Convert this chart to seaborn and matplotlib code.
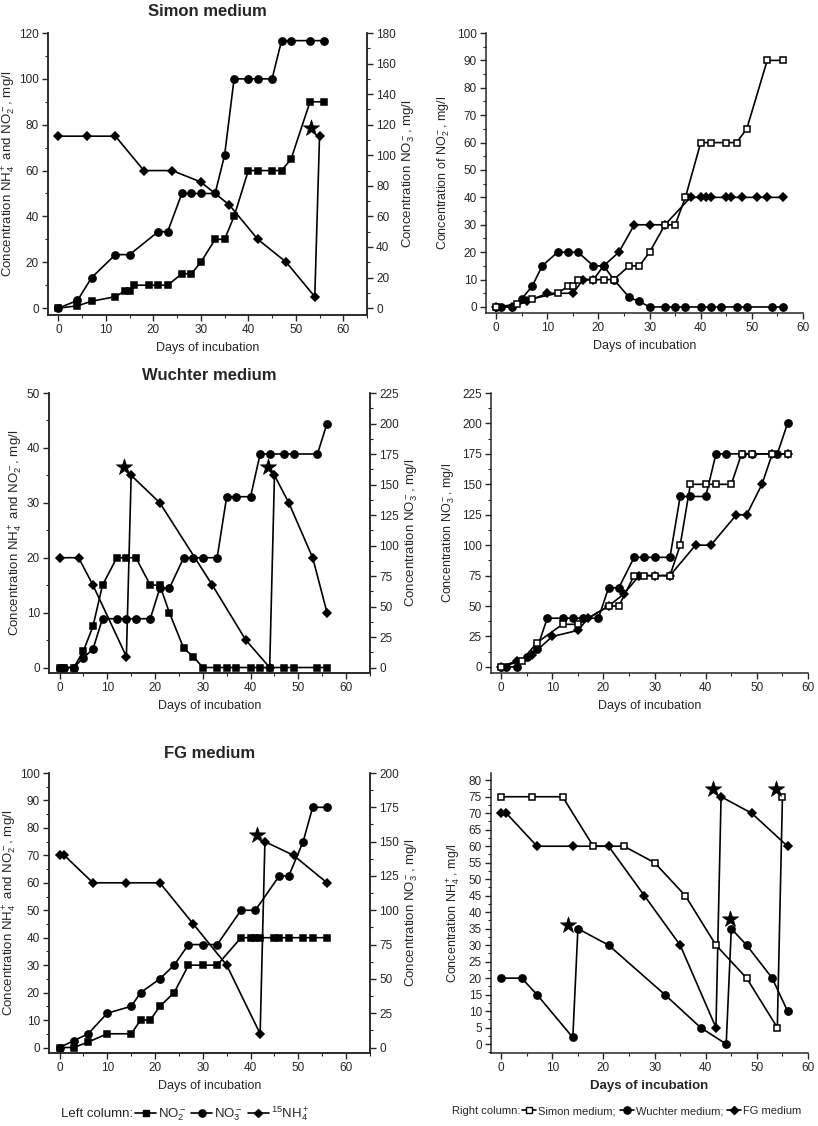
import numpy as np
import pandas as pd
import matplotlib
matplotlib.use("Agg")
import matplotlib.pyplot as plt
import seaborn as sns
from matplotlib import font_manager
from matplotlib.ticker import MultipleLocator
from matplotlib.lines import Line2D

# ---------------------------------------------------------
# DATA
# ---------------------------------------------------------
# Simon medium
simon_no2_days = [0, 4, 7, 12, 14, 15, 16, 19, 21, 23, 26, 28, 30, 33, 35, 37, 40, 42, 45, 47, 49, 53, 56]
simon_no2 = [0, 1, 3, 5, 7.5, 7.5, 10, 10, 10, 10, 15, 15, 20, 30, 30, 40, 60, 60, 60, 60, 65, 90, 90]
simon_no3_days = [0, 4, 7, 12, 15, 21, 23, 26, 28, 30, 33, 35, 37, 40, 42, 45, 47, 49, 53, 56]
simon_no3 = [0, 5, 20, 35, 35, 50, 50, 75, 75, 75, 75, 100, 150, 150, 150, 150, 175, 175, 175, 175]
simon_nh4_days = [0, 6, 12, 18, 24, 30, 36, 42, 48, 54, 55]
simon_nh4 = [75, 75, 75, 60, 60, 55, 45, 30, 20, 5, 75]

# Wuchter medium
wuchter_days = [0, 1, 3, 5, 7, 9, 12, 14, 16, 19, 21, 23, 26, 28, 30, 33, 35, 37, 40, 42, 44, 47, 49, 54, 56]
wuchter_no2 = [0, 0, 0, 3, 7.5, 15, 20, 20, 20, 15, 15, 10, 3.5, 2, 0, 0, 0, 0, 0, 0, 0, 0, 0, 0, 0]
wuchter_no3 = [0, 0, 0, 8, 15, 40, 40, 40, 40, 40, 65, 65, 90, 90, 90, 90, 140, 140, 140, 175, 175, 175, 175, 175, 200]
wuchter_nh4_days = [0, 4, 7, 14, 15, 21, 32, 39, 44, 45, 48, 53, 56]
wuchter_nh4 = [20, 20, 15, 2, 35, 30, 15, 5, 0, 35, 30, 20, 10]

# FG medium
fg_no2_days = [0, 3, 6, 10, 15, 17, 19, 21, 24, 27, 30, 33, 38, 40, 41, 42, 45, 46, 48, 51, 53, 56]
fg_no2 = [0, 0, 2, 5, 5, 10, 10, 15, 20, 30, 30, 30, 40, 40, 40, 40, 40, 40, 40, 40, 40, 40]
fg_no3_days = [0, 3, 6, 10, 15, 17, 21, 24, 27, 30, 33, 38, 41, 46, 48, 51, 53, 56]
fg_no3 = [0, 5, 10, 25, 30, 40, 50, 60, 75, 75, 75, 100, 100, 125, 125, 150, 175, 175]
fg_nh4_days = [0, 1, 7, 14, 21, 28, 35, 42, 43, 49, 56]
fg_nh4 = [70, 70, 60, 60, 60, 45, 30, 5, 75, 70, 60]

# stars (15NH4+ additions)
stars_simon_left = ([53.2], [78.5])
stars_wuchter_left = ([13.5, 43.7], [36.5, 36.5])
stars_fg_left = ([41.3], [77.5])
stars_right = ([13.0, 44.7, 41.5, 53.8], [36.2, 38.0, 77.5, 77.5])

NO2 = "NO$_2^-$"
NO3 = "NO$_3^-$"
NH4 = "NH$_4^+$"

# ---------------------------------------------------------
# STYLE
# ---------------------------------------------------------
sns.set_style("ticks")
plt.rcParams["font.family"] = ["Liberation Sans", "DejaVu Sans"]
plt.rcParams["mathtext.fontset"] = "custom"
plt.rcParams["mathtext.rm"] = "Liberation Sans"
plt.rcParams["mathtext.it"] = "Liberation Sans:italic"
plt.rcParams["mathtext.bf"] = "Liberation Sans:bold"
plt.rcParams["axes.linewidth"] = 1.1

# a condensed face for the legend rows, if one is installed
installed = {f.name for f in font_manager.fontManager.ttflist}
NARROW = [n for n in ("Liberation Sans Narrow", "DejaVu Sans Condensed")
          if n in installed] + ["Liberation Sans", "DejaVu Sans"]

SQ, CI, DI = 4.6, 5.2, 4.3
TICK = 8.5
LAB = 9


def draw(ax, days, vals, marker, size, face="black"):
    df = pd.DataFrame({"day": days, "val": vals})
    sns.lineplot(data=df, x="day", y="val", ax=ax, color="black",
                 marker=marker, markersize=size, markerfacecolor=face,
                 markeredgecolor="black", markeredgewidth=1.1,
                 linewidth=1.2, estimator=None, sort=False)


def stars(ax, pts):
    df = pd.DataFrame({"day": pts[0], "val": pts[1]})
    sns.scatterplot(data=df, x="day", y="val", ax=ax, marker="*", s=150,
                    color="black", edgecolor="black", linewidth=0.5, zorder=5)


def ticks(ax, ymaj, ymin_):
    ax.yaxis.set_major_locator(MultipleLocator(ymaj))
    ax.yaxis.set_minor_locator(MultipleLocator(ymin_))
    ax.xaxis.set_major_locator(MultipleLocator(10))
    ax.xaxis.set_minor_locator(MultipleLocator(5))
    ax.tick_params(which="major", direction="out", length=4, width=1, labelsize=TICK, pad=2.5)
    ax.tick_params(which="minor", direction="out", length=2, width=0.8)


W, H = 818, 1126
fig = plt.figure(figsize=(W / 100, H / 100), dpi=100)


def box(l, r, t, b):
    return [l / W, 1 - b / H, (r - l) / W, (b - t) / H]


# ---------------------------------------------------------
# LEFT COLUMN
# ---------------------------------------------------------
left_specs = [
    ("Simon medium", box(48, 367, 33, 315), (-3, 120), 20, 10, (-4.5, 180), 20, 10,
     (simon_no2_days, simon_no2), (simon_no3_days, simon_no3),
     (simon_nh4_days, simon_nh4), stars_simon_left, 12),
    ("Wuchter medium", box(49, 370, 393, 673), (-1, 50), 10, 5, (-4.5, 225), 25, 12.5,
     (wuchter_days, wuchter_no2), (wuchter_days, wuchter_no3),
     (wuchter_nh4_days, wuchter_nh4), stars_wuchter_left, 9),
    ("FG medium", box(49, 370, 773, 1053), (-2, 100), 10, 5, (-4, 200), 25, 12.5,
     (fg_no2_days, fg_no2), (fg_no3_days, fg_no3),
     (fg_nh4_days, fg_nh4), stars_fg_left, 11),
]

for (title, rect, ylim, ymaj, ymn, ylim2, ymaj2, ymn2,
     no2, no3, nh4, st, pad) in left_specs:
    ax = fig.add_axes(rect)
    draw(ax, no2[0], no2[1], "s", SQ)
    draw(ax, nh4[0], nh4[1], "D", DI)
    stars(ax, st)
    ax.set_xlim(-2.2, 65)
    ax.set_ylim(*ylim)
    ticks(ax, ymaj, ymn)
    ax.set_title(title, fontsize=12, fontweight="bold", pad=pad)
    ax.set_xlabel("Days of incubation", fontsize=LAB)
    ax.set_ylabel("Concentration " + NH4 + " and " + NO2 + ", mg/l", fontsize=9.5, labelpad=1)
    ax.spines["top"].set_visible(False)

    ax2 = ax.twinx()
    draw(ax2, no3[0], no3[1], "o", CI)
    ax2.set_ylim(*ylim2)
    ticks(ax2, ymaj2, ymn2)
    ax2.set_ylabel("Concentration " + NO3 + ", mg/l", fontsize=9.5, labelpad=3)
    ax2.spines["top"].set_visible(False)

# ---------------------------------------------------------
# RIGHT COLUMN
# ---------------------------------------------------------
ax = fig.add_axes(box(486, 803, 33, 313))
draw(ax, wuchter_days, wuchter_no2, "o", CI)
draw(ax, fg_no2_days, fg_no2, "D", DI)
draw(ax, simon_no2_days, simon_no2, "s", SQ, face="white")
ax.set_xlim(-2, 60)
ax.set_ylim(-2.2, 100)
ticks(ax, 10, 5)
ax.set_xlabel("Days of incubation", fontsize=LAB)
ax.set_ylabel("Concentration of " + NO2 + ", mg/l", fontsize=LAB)
sns.despine(ax=ax)

ax = fig.add_axes(box(491, 808, 393, 673))
draw(ax, wuchter_days, wuchter_no3, "o", CI)
draw(ax, fg_no3_days, fg_no3, "D", DI)
draw(ax, simon_no3_days, simon_no3, "s", SQ, face="white")
ax.set_xlim(-2, 60)
ax.set_ylim(-5, 225)
ticks(ax, 25, 12.5)
ax.set_xlabel("Days of incubation", fontsize=LAB)
ax.set_ylabel("Concentration " + NO3 + ", mg/l", fontsize=LAB)
sns.despine(ax=ax)

ax = fig.add_axes(box(491, 808, 773, 1053))
draw(ax, wuchter_nh4_days, wuchter_nh4, "o", CI)
draw(ax, fg_nh4_days, fg_nh4, "D", DI)
draw(ax, simon_nh4_days, simon_nh4, "s", SQ, face="white")
stars(ax, stars_right)
ax.set_xlim(-2, 60)
ax.set_ylim(-2.7, 82.2)
ticks(ax, 5, 2.5)
ax.set_xlabel("Days of incubation", fontsize=9.5, fontweight="bold")
ax.set_ylabel("Concentration " + NH4 + ", mg/l", fontsize=LAB)
sns.despine(ax=ax)

# ---------------------------------------------------------
# LEGENDS (text label followed by a row of handles),
# shrunk until the row fits between x0 and x1
# ---------------------------------------------------------
def handle(marker, size, face="black"):
    return Line2D([], [], color="black", marker=marker, markersize=size,
                  markerfacecolor=face, markeredgecolor="black", linewidth=1.2)


renderer = fig.canvas.get_renderer()


def row_legend(x0, x1, y, title, handles, labels, hl):
    size = 10.0
    while True:
        txt = fig.text(x0 / W, 1 - y / H, title, fontsize=size, va="center", family=NARROW)
        ext = txt.get_window_extent(renderer=renderer)
        leg = fig.legend(handles, labels, loc="center left",
                         bbox_to_anchor=(ext.x1 / W, 1 - y / H), ncol=len(handles),
                         frameon=False, prop={"family": NARROW, "size": size},
                         handlelength=hl, handletextpad=0.15, columnspacing=0.35,
                         borderpad=0.0, borderaxespad=0.15)
        right = leg.get_window_extent(renderer=renderer).x1
        if right <= x1 or size <= 6:
            return
        txt.remove()
        leg.remove()
        size -= 0.25


row_legend(61, 312, 1114, "Left column:",
           [handle("s", SQ), handle("o", CI), handle("D", DI)],
           [NO2, NO3, "$^{15}$" + NH4], 1.6)
row_legend(452, 812, 1111, "Right column:",
           [handle("s", SQ, face="white"), handle("o", CI), handle("D", DI)],
           ["Simon medium;", "Wuchter medium;", "FG medium"], 1.3)

fig.savefig("out.png", dpi=100)
